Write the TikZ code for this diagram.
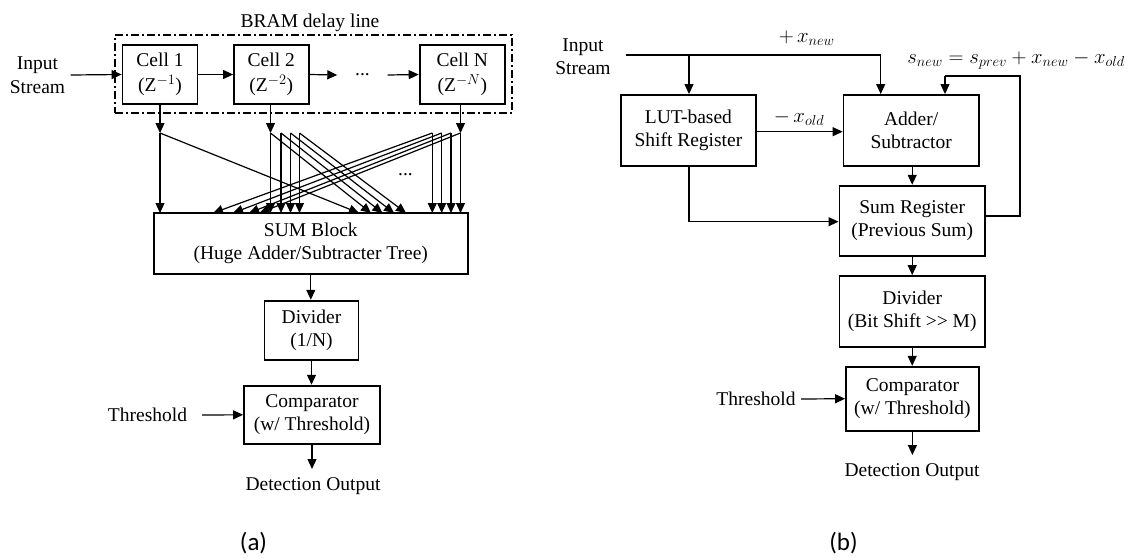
\documentclass[tikz,border=0pt]{standalone}
\usepackage{fontspec}
\setmainfont{Liberation Serif}
\newfontfamily\capfont{Carlito}
\usetikzlibrary{arrows.meta}
\begin{document}
\begin{tikzpicture}[x=1pt,y=-1pt,
  txt/.style={align=center, inner sep=0pt, font=\fontsize{19.5}{23.5}\selectfont},
  box/.style={txt, draw, line width=1.8pt},
  cellbox/.style={box, font=\fontsize{19.5}{25}\selectfont},
  link/.style={line width=1.2pt, -{Triangle[length=10pt,width=9pt]}},
  wire/.style={line width=1.2pt},
  captext/.style={inner sep=0pt, font=\capfont\fontsize{25}{30}\selectfont},
  dotsnode/.style={inner sep=0pt, font=\fontsize{19.5}{23.5}\selectfont}]
\useasboundingbox (0,0) rectangle (1129,557);
\fill[white] (0,0) rectangle (1129,557);

% ---------------- (a) parallel moving sum ----------------
\node[draw, line width=1.4pt, dash pattern=on 8pt off 3pt on 2pt off 3pt,
      minimum width=397pt, minimum height=78pt, inner sep=0pt] (bram) at (313.5,74) {};
\node[txt] (bramlbl) at (310,23) {BRAM delay line};

\node[cellbox, minimum width=75pt, minimum height=59pt] (c1) at (160,74.5) {Cell 1\\($\mathrm{Z}^{-1}$)};
\node[cellbox, minimum width=74.6pt, minimum height=59pt] (c2) at (271.3,74.5) {Cell 2\\($\mathrm{Z}^{-2}$)};
\node[cellbox, minimum width=85.4pt, minimum height=59pt] (cN) at (462.3,74.5) {Cell N\\($\mathrm{Z}^{-N}$)};
\node[dotsnode, minimum width=50pt] (dchain) at (362.5,75) {...};

\node[txt] (inA) at (37.5,75) {Input\\Stream};
\coordinate (inAend) at (70.7,75);
\draw[link] (inAend) -- (c1.west);
\draw[link] (c1.east) -- (c2.west);
\draw[link] (c2.east) -- (dchain.west);
\draw[link] (dchain.east) -- (cN.west);

\node[box, minimum width=314.4pt, minimum height=61pt] (sum) at (310.8,243.5)
  {SUM Block\\(Huge Adder/Subtracter Tree)};
\node[box, minimum width=94pt, minimum height=59.3pt] (divA) at (311.5,330.3) {Divider\\(1/N)};
\node[box, minimum width=136pt, minimum height=58.3pt] (compA) at (312,414.8) {Comparator\\(w/ Threshold)};

% taps below the cells
\coordinate (t1) at (160,133);
\coordinate (t2) at (270.5,133);
\coordinate (tN) at (460.5,133);
\draw[link] (c1.south) -- (t1);
\draw[link] (c2.south -| t2) -- (t2);
\draw[link] (cN.south -| tN) -- (tN);

% cell 1 fan-out
\coordinate (e1a) at (160,213);
\coordinate (e1b) at (359,213);
\draw[link] (t1) -- (e1a);
\draw[link] (t1) -- (e1b);

% cell 2 fan-out
\coordinate (t2b) at (281,133);
\coordinate (t2c) at (290.5,133);
\coordinate (t2d) at (299.5,133);
\foreach \s/\v/\d in {t2/270.5/371, t2b/281/382.5, t2c/290.5/394, t2d/299.5/406}{
  \coordinate (v-\s) at (\v,213);
  \coordinate (d-\s) at (\d,213);
  \draw[link] (\s) -- (v-\s);
  \draw[link] (\s) -- (d-\s);
}

% cell N fan-out
\coordinate (tNb) at (432.3,133);
\coordinate (tNc) at (441.7,133);
\coordinate (tNd) at (451,133);
\foreach \s/\v/\d in {tNb/432.3/213, tNc/441.7/233, tNd/451/249, tN/460.5/259.5}{
  \coordinate (v-\s) at (\v,213);
  \coordinate (d-\s) at (\d,213);
  \draw[link] (\s) -- (v-\s);
  \draw[link] (\s) -- (d-\s);
}
\node[dotsnode] (dfan) at (405.5,175) {...};

\draw[link] (sum.south) -- (sum.south |- divA.north);
\draw[link] (divA.south) -- (divA.south |- compA.north);
\node[txt] (thrA) at (147.5,415) {Threshold};
\coordinate (thrAend) at (202,415);
\draw[link] (thrAend) -- (compA.west);
\coordinate (outA) at (312,469);
\draw[link] (compA.south) -- (outA);
\node[txt] (outAlbl) at (313,486) {Detection Output};
\node[captext] (capA) at (253.5,543) {(a)};

% ---------------- (b) recursive moving sum ----------------
\node[txt] (inB) at (583,56.5) {Input\\Stream};
\node[box, minimum width=135.2pt, minimum height=70.7pt] (lut) at (688.4,130.3) {LUT-based\\Shift Register};
\node[box, minimum width=135.3pt, minimum height=70.7pt] (add) at (911.2,130.3) {Adder/\\Subtractor};
\node[box, minimum width=145.6pt, minimum height=70.3pt] (sreg) at (912.2,220.8) {Sum Register\\(Previous Sum)};
\node[box, minimum width=145.6pt, minimum height=71pt] (divB) at (912.2,311.5) {Divider\\(Bit Shift \textgreater{}\textgreater{} M)};
\node[box, minimum width=132.8pt, minimum height=64pt] (compB) at (912.4,398.7) {Comparator\\(w/ Threshold)};

\coordinate (inBs) at (625.6,55);
\coordinate (inBj) at (689,55);
\coordinate (inBc) at (880.7,55);
\draw[wire] (inBs) -- (inBc);
\draw[link] (inBc) -- (inBc |- add.north);
\draw[link] (inBj) -- (inBj |- lut.north);
\node[txt] (xnew) at (806.7,38) {$+\,x_{new}$};

\draw[link] (lut.east |- 0,131.7) -- (add.west |- 0,131.7);
\node[txt] (xold) at (799,118) {$-\,x_{old}$};

\draw[link] (add.south -| sreg.north) -- (sreg.north);
\coordinate (lutc) at (689,221.7);
\draw[wire] (lut.south -| lutc) -- (lutc);
\draw[link] (lutc) -- (sreg.west |- lutc);

\coordinate (fb1) at (1020,216);
\coordinate (fb2) at (1020,76);
\coordinate (fb3) at (945,76);
\draw[wire] (sreg.east |- fb1) -- (fb1) -- (fb2) -- (fb3);
\draw[link] (fb3) -- (fb3 |- add.north);
\node[txt] (eqn) at (1016,60) {$s_{new} = s_{prev} + x_{new} - x_{old}$};

\draw[link] (sreg.south) -- (divB.north);
\draw[link] (divB.south) -- (divB.south |- compB.north);
\node[txt] (thrB) at (756,399) {Threshold};
\coordinate (thrBend) at (801,399);
\draw[link] (thrBend) -- (compB.west);
\coordinate (outB) at (912.4,455);
\draw[link] (compB.south) -- (outB);
\node[txt] (outBlbl) at (912,472) {Detection Output};
\node[captext] (capB) at (843.5,543) {(b)};
\end{tikzpicture}
\end{document}
